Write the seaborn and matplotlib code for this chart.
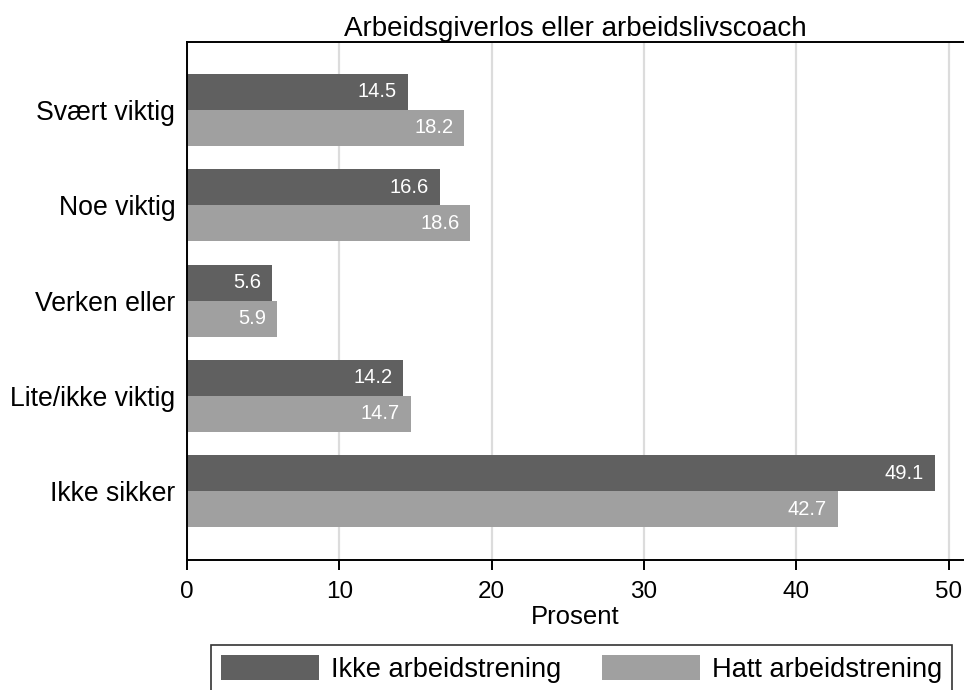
import matplotlib
matplotlib.use("Agg")
import matplotlib.pyplot as plt
import seaborn as sns
import pandas as pd

categories = ["Svært viktig", "Noe viktig", "Verken eller", "Lite/ikke viktig", "Ikke sikker"]
ikke_arbeidstrening = [14.5, 16.6, 5.6, 14.2, 49.1]
hatt_arbeidstrening = [18.2, 18.6, 5.9, 14.7, 42.7]
series = ["Ikke arbeidstrening", "Hatt arbeidstrening"]
colors = ["#606060", "#a0a0a0"]
title = "Arbeidsgiverlos eller arbeidslivscoach"
xlabel = "Prosent"
xticks = [0, 10, 20, 30, 40, 50]

df = pd.DataFrame({
    "kategori": categories * 2,
    "verdi": ikke_arbeidstrening + hatt_arbeidstrening,
    "gruppe": [series[0]] * len(categories) + [series[1]] * len(categories),
})

sns.set_style("white")
plt.rcParams["font.family"] = ["Liberation Sans", "DejaVu Sans"]
plt.rcParams["text.color"] = "black"
plt.rcParams["axes.labelcolor"] = "black"
plt.rcParams["xtick.color"] = "black"
plt.rcParams["ytick.color"] = "black"

fig = plt.figure(figsize=(9.64, 6.9), dpi=100)
ax = fig.add_axes([187 / 964, 130 / 690, 777 / 964, 518 / 690])

sns.barplot(data=df, y="kategori", x="verdi", hue="gruppe", order=categories,
            hue_order=series, palette=colors, orient="h", width=0.755, gap=0,
            saturation=1, edgecolor="none", linewidth=0, ax=ax, legend=True)

for cont in ax.containers:
    ax.bar_label(cont, fmt="%.1f", label_type="edge", padding=-8, color="white",
                 fontsize=14.5)
for txt in ax.texts:
    txt.set_ha("right")

ax.set_xlim(0, 51)
ax.set_ylim(4.72, -0.71)
ax.set_xticks(xticks)
ax.set_xticklabels([str(t) for t in xticks], fontsize=17.5)
ax.tick_params(axis="x", bottom=True, direction="out", length=7, width=1.4,
               color="black", pad=8)
ax.tick_params(axis="y", left=False, length=0, pad=8.5, labelsize=19.2)
ax.set_ylabel("")
ax.set_xlabel(xlabel, fontsize=18.5, labelpad=1.5)
ax.set_title(title, fontsize=20, pad=4, color="black")

ax.grid(axis="x", color="#dcdcdc", linewidth=1.6)
ax.grid(axis="y", visible=False)
ax.set_axisbelow(True)
for s in ["left", "top", "bottom"]:
    ax.spines[s].set_visible(True)
    ax.spines[s].set_color("black")
    ax.spines[s].set_linewidth(1.4)
ax.spines["right"].set_visible(False)

handles, labels = ax.get_legend_handles_labels()
ax.get_legend().remove()
leg = fig.legend(handles, labels, loc="upper center", ncol=2,
                 bbox_to_anchor=(581.5 / 964, 45 / 690),
                 frameon=True, fancybox=False, edgecolor="black", fontsize=19.6,
                 handlelength=3.6, handleheight=1.06, handletextpad=0.45,
                 borderpad=0.35, borderaxespad=0, columnspacing=1.5)
leg.get_frame().set_linewidth(1.2)

fig.savefig("out.png", dpi=100)
